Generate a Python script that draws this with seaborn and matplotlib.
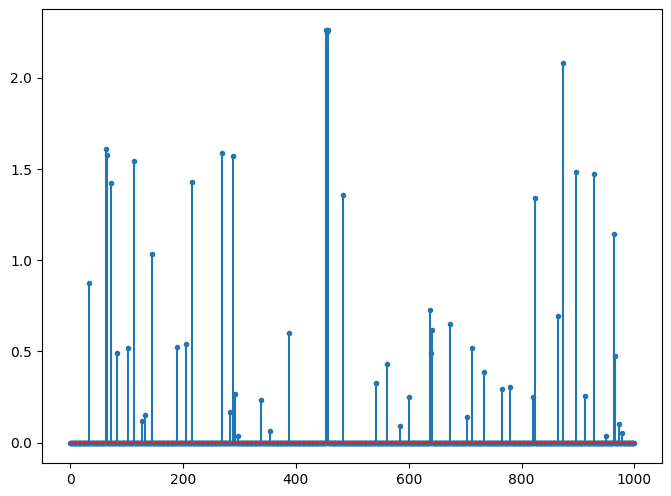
import numpy as np
import matplotlib
matplotlib.use('Agg')
import matplotlib.pyplot as plt
import seaborn as sns

N_POINTS = 1000

# positions of the non-zero samples and their heights
spike_idx = [33, 63, 65, 72, 83, 103, 113, 127, 133, 145,
             189, 205, 216, 269, 283, 288, 292, 297, 338, 354,
             387, 454, 455, 456, 457, 483, 542, 561, 585,
             600, 637, 639, 642, 673, 703, 713, 733, 766, 779,
             821, 823, 865, 873, 897, 913, 929, 949, 963, 965,
             973, 978]
spike_val = [0.873, 1.608, 1.58, 1.423, 0.494, 0.521, 1.542, 0.121, 0.15, 1.032,
             0.527, 0.543, 1.427, 1.586, 0.170, 1.571, 0.269, 0.038, 0.232, 0.062,
             0.604, 2.263, 2.255, 2.252, 2.26, 1.356, 0.329, 0.434, 0.094,
             0.253, 0.73, 0.494, 0.62, 0.648, 0.143, 0.521, 0.39, 0.292, 0.303,
             0.252, 1.339, 0.697, 2.08, 1.482, 0.258, 1.471, 0.038, 1.142, 0.477,
             0.105, 0.055]

x = np.arange(N_POINTS)
y = np.zeros(N_POINTS)
y[spike_idx] = spike_val

fig = plt.figure(figsize=(6.71, 4.96), dpi=100)
ax = fig.add_axes([42 / 671, (496 - 463.3) / 496, 620 / 671, 454 / 496])

# stems
ax.vlines(x, 0, y, color='C0', linewidth=1.5, zorder=2)
# markers
sns.scatterplot(x=x, y=y, ax=ax, color='C0', edgecolor='C0', s=9,
                linewidth=1, zorder=2.5, legend=False)
# baseline
ax.plot([x.min(), x.max()], [0, 0], color='C3', linewidth=1.5, zorder=3)

ax.set_xlabel('')
ax.set_ylabel('')

fig.savefig('out.png', dpi=100)
